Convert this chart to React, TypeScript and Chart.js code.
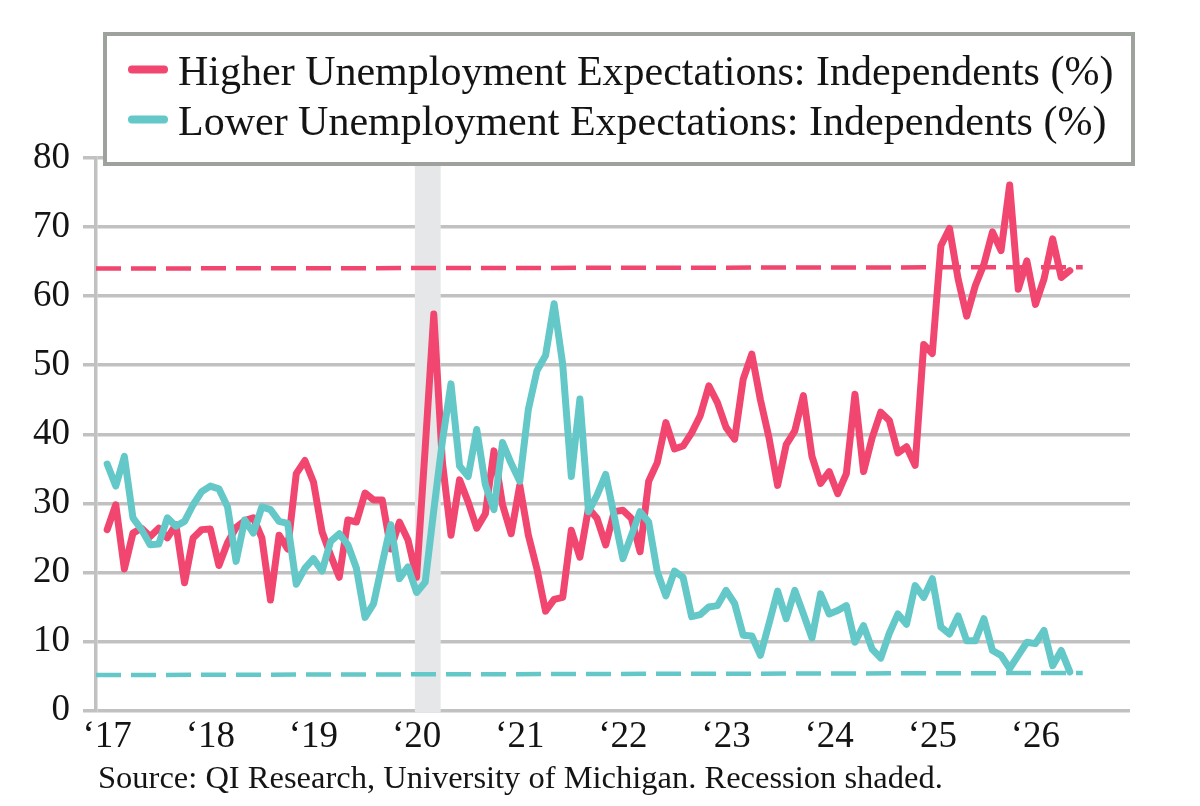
import React, { useEffect, useRef } from "react";
import { Chart, registerables } from "chart.js";

Chart.register(...registerables);

// ---- Data (monthly, index 0 = first month of 2017) ----
const yearLabels = ["‘17", "‘18", "‘19", "‘20", "‘21", "‘22", "‘23", "‘24", "‘25", "‘26"];

const seriesNames = [
  "Higher Unemployment Expectations: Independents (%)",
  "Lower Unemployment Expectations: Independents (%)",
];

const higherUnemployment = [
  26.2, 29.8, 20.5, 25.7, 26.4, 25.2, 26.4, 25.0, 26.9, 18.5, 25.0, 26.2,
  26.3, 21.0, 24.3, 26.5, 27.5, 27.9, 25.0, 16.0, 25.4, 23.4, 34.3, 36.2,
  33.1, 25.9, 22.5, 19.3, 27.6, 27.3, 31.5, 30.5, 30.5, 23.4, 27.3, 24.7,
  19.3, 38.0, 57.4, 36.0, 25.4, 33.4, 30.2, 26.4, 28.5, 37.6, 29.8, 25.6,
  32.6, 25.4, 20.5, 14.4, 16.1, 16.4, 26.1, 22.2, 29.3, 27.8, 24.0, 28.8,
  29.0, 27.8, 23.0, 33.2, 35.9, 41.7, 37.9, 38.3, 40.2, 42.7, 47.0, 44.6,
  41.0, 39.3, 48.0, 51.6, 45.0, 39.5, 32.6, 38.5, 40.5, 45.6, 36.8, 32.9,
  34.6, 31.4, 34.3, 45.8, 34.6, 39.5, 43.2, 42.0, 37.3, 38.2, 35.5, 53.0,
  51.7, 67.3, 69.8, 62.5, 57.1, 61.5, 64.6, 69.3, 66.6, 76.1, 61.0, 65.1,
  58.8, 62.5, 68.3, 62.7, 63.7,
];

const lowerUnemployment = [
  35.7, 32.5, 36.8, 27.9, 26.2, 24.0, 24.1, 27.9, 26.7, 27.4, 29.8, 31.7,
  32.5, 32.1, 29.5, 21.6, 27.6, 25.7, 29.5, 29.1, 27.4, 27.1, 18.3, 20.6,
  22.0, 20.2, 24.5, 25.6, 24.0, 20.6, 13.5, 15.5, 21.3, 26.9, 19.1, 20.8,
  17.1, 18.6, 29.0, 39.0, 47.3, 35.4, 33.9, 40.7, 32.7, 29.1, 38.8, 35.8,
  33.2, 43.6, 49.2, 51.4, 58.9, 50.1, 33.9, 45.1, 28.8, 31.2, 34.2, 28.1,
  22.0, 25.4, 28.8, 27.3, 20.1, 16.6, 20.2, 19.3, 13.6, 13.9, 15.0, 15.2,
  17.4, 15.5, 10.9, 10.8, 8.0, 12.6, 17.3, 13.3, 17.4, 14.0, 10.5, 16.9,
  14.0, 14.5, 15.2, 9.9, 12.3, 8.9, 7.6, 11.2, 14.0, 12.5, 18.1, 16.4,
  19.1, 12.1, 11.1, 13.7, 10.1, 10.1, 13.3, 8.7, 8.0, 6.1, 8.0, 9.9,
  9.7, 11.6, 6.5, 8.7, 5.6,
];

// long-run reference levels (start, end)
const higherAvg = [64.0, 64.2];
const lowerAvg = [5.15, 5.45];
const avgSpan = [-1.3, 113.5]; // month index range
const recessionSpan = [35.8, 38.8]; // month index range (shaded)
const xRange = [-1.3, 119];
const yTicks = [0, 10, 20, 30, 40, 50, 60, 70, 80];

const sourceNote = "Source: QI Research, University of Michigan. Recession shaded.";

const RED = "#f0466f";
const TEAL = "#63c8c7";
const GRID = "#c1c1c1";
const TEXT = "#141414";
const FONT = "'Liberation Serif', 'Times New Roman', serif";

export default function App() {
  const canvasRef = useRef<HTMLCanvasElement | null>(null);

  useEffect(() => {
    if (!canvasRef.current) return;

    const shadePlugin = {
      id: "recessionShade",
      beforeDatasetsDraw(chart: any) {
        const { ctx, chartArea } = chart;
        const xs = chart.scales.x;
        const x0 = xs.getPixelForValue(recessionSpan[0]);
        const x1 = xs.getPixelForValue(recessionSpan[1]);
        ctx.save();
        ctx.fillStyle = "#e6e7e9";
        ctx.fillRect(x0, chartArea.top - 2, x1 - x0, chartArea.bottom - chartArea.top + 4);
        ctx.restore();
      },
    };

    const boxLegendPlugin = {
      id: "boxLegend",
      afterDraw(chart: any) {
        const { ctx } = chart;
        ctx.save();
        ctx.fillStyle = "#ffffff";
        ctx.strokeStyle = "#9da29d";
        ctx.lineWidth = 4;
        ctx.fillRect(105, 34, 1028, 130);
        ctx.strokeRect(105, 34, 1028, 130);
        const colors = [RED, TEAL];
        const rowsY = [69.5, 119.5];
        ctx.lineCap = "round";
        ctx.lineWidth = 8;
        colors.forEach((c, i) => {
          ctx.strokeStyle = c;
          ctx.beginPath();
          ctx.moveTo(132, rowsY[i]);
          ctx.lineTo(164, rowsY[i]);
          ctx.stroke();
        });
        ctx.fillStyle = TEXT;
        ctx.font = `42px ${FONT}`;
        ctx.textBaseline = "alphabetic";
        ctx.textAlign = "left";
        seriesNames.forEach((name, i) => {
          ctx.fillText(name, 178, rowsY[i] + 15);
        });
        // source note
        ctx.font = `32.5px ${FONT}`;
        ctx.fillText(sourceNote, 98, 788);
        ctx.restore();
      },
    };

    const toPoints = (arr: number[]) => arr.map((v, i) => ({ x: i, y: v }));

    const chart = new Chart(canvasRef.current, {
      type: "line",
      data: {
        datasets: [
          {
            label: seriesNames[1],
            data: toPoints(lowerUnemployment),
            borderColor: TEAL,
            borderWidth: 7,
            pointRadius: 0,
            borderJoinStyle: "round",
            borderCapStyle: "round",
            tension: 0,
            order: 0,
          },
          {
            label: seriesNames[0],
            data: toPoints(higherUnemployment),
            borderColor: RED,
            borderWidth: 7,
            pointRadius: 0,
            borderJoinStyle: "round",
            borderCapStyle: "round",
            tension: 0,
            order: 1,
          },
          {
            label: "Higher avg",
            data: [
              { x: avgSpan[0], y: higherAvg[0] },
              { x: avgSpan[1], y: higherAvg[1] },
            ],
            borderColor: RED,
            borderWidth: 4.5,
            borderDash: [25, 10],
            pointRadius: 0,
            order: 2,
          },
          {
            label: "Lower avg",
            data: [
              { x: avgSpan[0], y: lowerAvg[0] },
              { x: avgSpan[1], y: lowerAvg[1] },
            ],
            borderColor: TEAL,
            borderWidth: 4.5,
            borderDash: [25, 10],
            pointRadius: 0,
            order: 3,
          },
        ],
      },
      options: {
        responsive: false,
        animation: false,
        devicePixelRatio: 1,
        layout: { padding: { left: 0, right: 70, top: 158, bottom: 43 } },
        plugins: {
          legend: { display: false },
          tooltip: { enabled: false },
        },
        scales: {
          x: {
            type: "linear",
            min: xRange[0],
            max: xRange[1],
            grid: { display: false, drawTicks: false },
            border: { display: false },
            afterBuildTicks: (scale: any) => {
              scale.ticks = yearLabels.map((_, i) => ({ value: i * 12 }));
            },
            ticks: {
              autoSkip: false,
              maxRotation: 0,
              padding: 4,
              color: TEXT,
              font: { family: FONT, size: 37 },
              callback: (v: any) => yearLabels[Math.round(Number(v) / 12)] ?? "",
            },
          },
          y: {
            min: 0,
            max: 80,
            afterBuildTicks: (scale: any) => {
              scale.ticks = yTicks.map((v) => ({ value: v }));
            },
            afterFit: (scale: any) => {
              scale.width = 96;
            },
            grid: { color: GRID, lineWidth: 3.5, tickLength: 13, drawTicks: true },
            border: { display: true, color: GRID, width: 3.5 },
            ticks: {
              padding: 13,
              color: TEXT,
              font: { family: FONT, size: 37 },
            },
          },
        },
      },
      plugins: [shadePlugin, boxLegendPlugin],
    } as any);

    return () => chart.destroy();
  }, []);

  return (
    <div style={{ position: "absolute", left: 0, top: 0, width: 1200, height: 806, background: "#fff" }}>
      <canvas ref={canvasRef} width={1200} height={806} style={{ display: "block" }} />
    </div>
  );
}
